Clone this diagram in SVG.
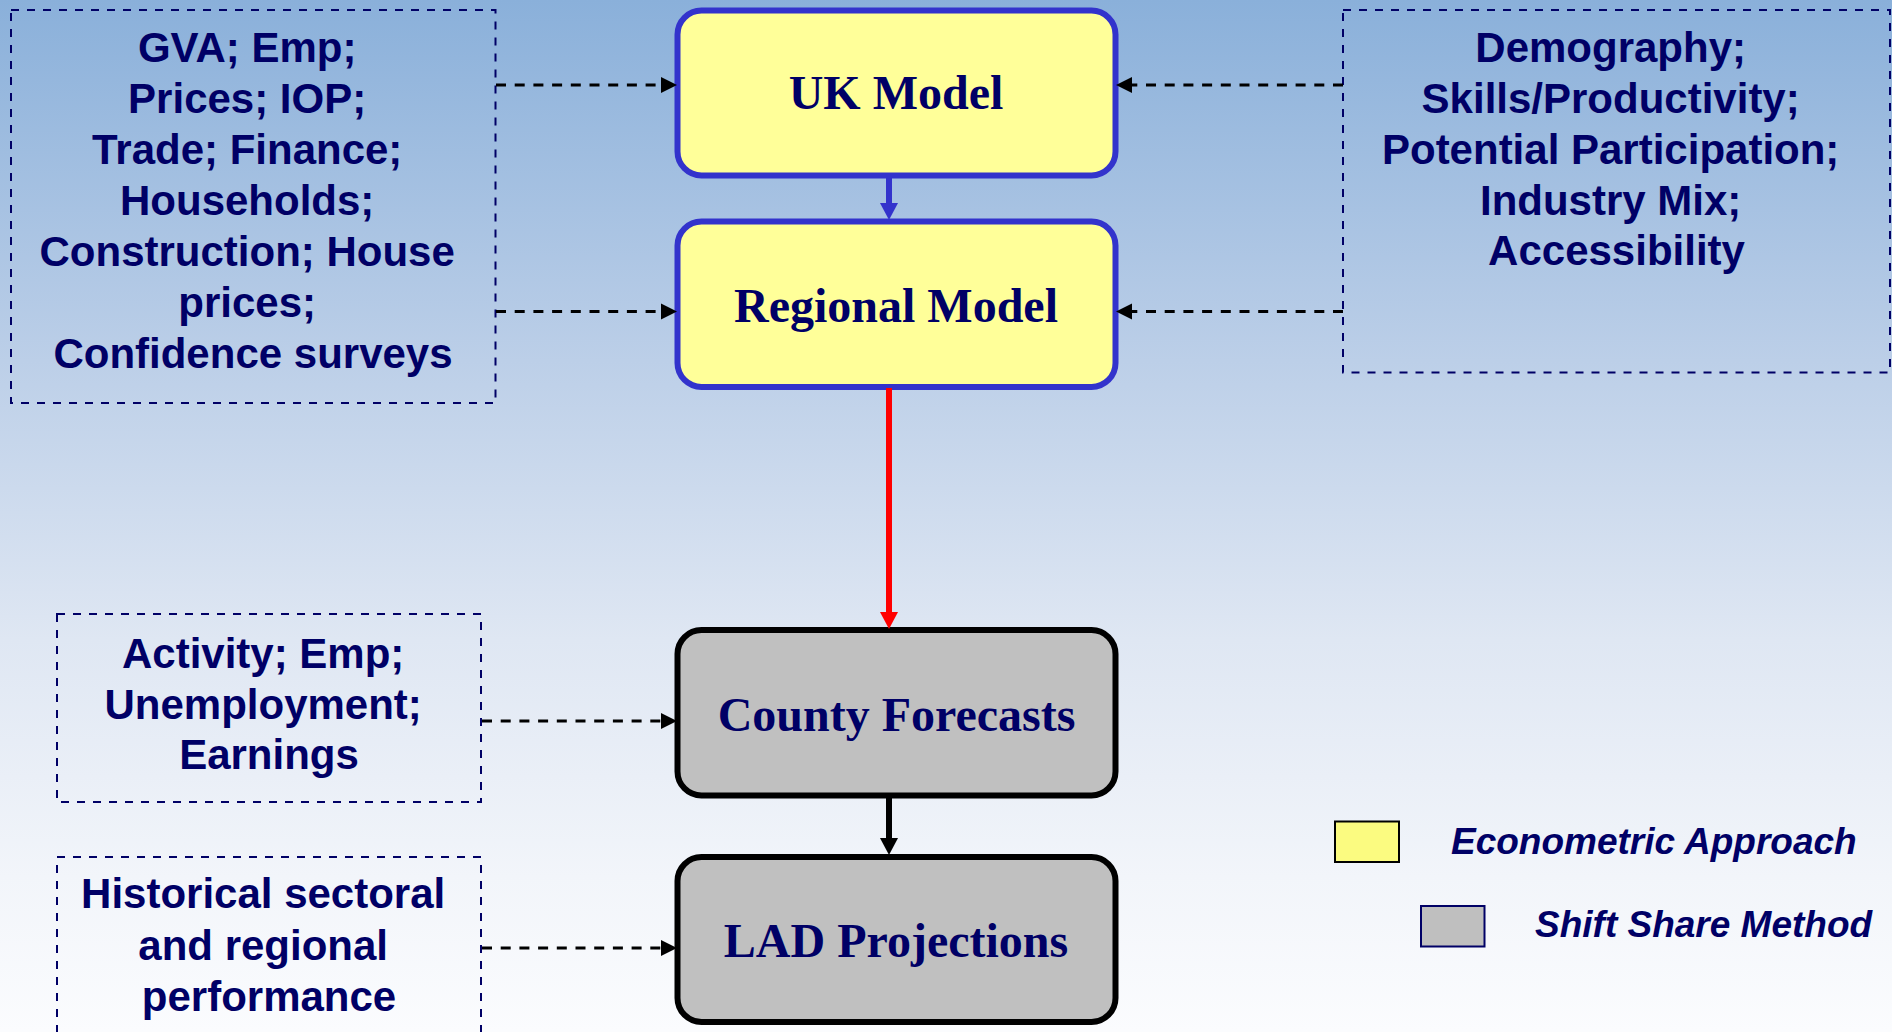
<svg xmlns="http://www.w3.org/2000/svg" width="1892" height="1032" viewBox="0 0 1892 1032">
  <defs>
    <linearGradient id="bg" x1="0" y1="0" x2="0" y2="1">
      <stop offset="0" stop-color="#8ab0da"/>
      <stop offset="0.35" stop-color="#bccfe8"/>
      <stop offset="0.62" stop-color="#dfe7f3"/>
      <stop offset="0.85" stop-color="#f2f5fa"/>
      <stop offset="1" stop-color="#fbfcfe"/>
    </linearGradient>
    <style>
      .src { fill: none; stroke: #000066; stroke-width: 2; stroke-dasharray: 8 8; }
      .srctext { font-family: "Liberation Sans", Arial, sans-serif; font-weight: bold; font-size: 42px; fill: #000066; text-anchor: middle; }
      .econ { fill: #ffff99; stroke: #3333cc; stroke-width: 6; }
      .shift { fill: #c0c0c0; stroke: #000000; stroke-width: 6; }
      .title { font-family: "Liberation Serif", "Times New Roman", serif; font-weight: bold; font-size: 48px; fill: #000066; text-anchor: middle; }
      .feed { fill: none; stroke: #000000; stroke-width: 3; stroke-dasharray: 10 8.7; }
      .legend { font-family: "Liberation Sans", Arial, sans-serif; font-weight: bold; font-style: italic; font-size: 37px; fill: #000066; }
    </style>
  </defs>

  <rect x="0" y="0" width="1892" height="1032" fill="url(#bg)"/>

  <!-- input boxes -->
  <g id="uk-inputs">
    <rect class="src" x="11" y="10" width="484.5" height="393"/>
    <text class="srctext" x="253">
      <tspan x="253" y="62">GVA; Emp;</tspan>
      <tspan x="253" y="113">Prices; IOP;</tspan>
      <tspan x="253" y="164">Trade; Finance;</tspan>
      <tspan x="253" y="215">Households;</tspan>
      <tspan x="253" y="266">Construction; House</tspan>
      <tspan x="253" y="317">prices;</tspan>
      <tspan x="253" y="368">Confidence surveys</tspan>
    </text>
  </g>

  <g id="regional-inputs">
    <rect class="src" x="1343" y="10" width="547" height="362.5"/>
    <text class="srctext">
      <tspan x="1616.5" y="62">Demography;</tspan>
      <tspan x="1616.5" y="113">Skills/Productivity;</tspan>
      <tspan x="1616.5" y="164">Potential Participation;</tspan>
      <tspan x="1616.5" y="215">Industry Mix;</tspan>
      <tspan x="1616.5" y="265">Accessibility</tspan>
    </text>
  </g>

  <g id="county-inputs">
    <rect class="src" x="57" y="614" width="424" height="188"/>
    <text class="srctext">
      <tspan x="269" y="668">Activity; Emp;</tspan>
      <tspan x="269" y="718.5">Unemployment;</tspan>
      <tspan x="269" y="769">Earnings</tspan>
    </text>
  </g>

  <g id="lad-inputs">
    <rect class="src" x="57" y="857" width="424" height="200"/>
    <text class="srctext">
      <tspan x="269" y="908">Historical sectoral</tspan>
      <tspan x="269" y="960">and regional</tspan>
      <tspan x="269" y="1011">performance</tspan>
    </text>
  </g>

  <!-- model boxes -->
  <g id="uk-model">
    <rect class="econ" x="677.5" y="10.5" width="438" height="165" rx="24"/>
    <text class="title" x="896" y="109">UK Model</text>
  </g>

  <g id="regional-model">
    <rect class="econ" x="677.5" y="221.5" width="438" height="165.5" rx="24"/>
    <text class="title" x="896" y="322">Regional Model</text>
  </g>

  <g id="county-forecasts">
    <rect class="shift" x="677.5" y="630" width="438" height="165.5" rx="24"/>
    <text class="title" x="896.5" y="731">County Forecasts</text>
  </g>

  <g id="lad-projections">
    <rect class="shift" x="677.5" y="857" width="438" height="165" rx="24"/>
    <text class="title" x="896" y="957">LAD Projections</text>
  </g>

  <!-- connectors -->
  <g id="connectors">
    <!-- dashed data feeds -->
    <line class="feed" x1="496" y1="85" x2="661" y2="85"/>
    <polygon points="661,77 677,85 661,93" fill="#000"/>
    <line class="feed" x1="496" y1="311.5" x2="661" y2="311.5"/>
    <polygon points="661,303.5 677,311.5 661,319.5" fill="#000"/>
    <line class="feed" x1="1343" y1="85" x2="1132" y2="85"/>
    <polygon points="1132,77 1116,85 1132,93" fill="#000"/>
    <line class="feed" x1="1343" y1="311.5" x2="1132" y2="311.5"/>
    <polygon points="1132,303.5 1116,311.5 1132,319.5" fill="#000"/>
    <line class="feed" x1="482" y1="721" x2="661" y2="721"/>
    <polygon points="661,713 677,721 661,729" fill="#000"/>
    <line class="feed" x1="482" y1="948" x2="661" y2="948"/>
    <polygon points="661,940 677,948 661,956" fill="#000"/>

    <!-- model chain -->
    <line x1="889" y1="178" x2="889" y2="204" stroke="#3333cc" stroke-width="6"/>
    <polygon points="880,203 898,203 889,220" fill="#3333cc"/>
    <line x1="889" y1="388" x2="889" y2="613" stroke="#ff0000" stroke-width="6"/>
    <polygon points="880,612 898,612 889,629" fill="#ff0000"/>
    <line x1="889" y1="797" x2="889" y2="839" stroke="#000000" stroke-width="6"/>
    <polygon points="880,838 898,838 889,855" fill="#000000"/>
  </g>

  <!-- legend -->
  <g id="legend">
    <rect x="1335" y="821.5" width="64" height="40.5" fill="#fbfb80" stroke="#000" stroke-width="2"/>
    <text class="legend" x="1451" y="854">Econometric Approach</text>
    <rect x="1421" y="906" width="63.5" height="40.5" fill="#bfbfbf" stroke="#000066" stroke-width="2"/>
    <text class="legend" x="1535" y="936.5">Shift Share Method</text>
  </g>
</svg>
